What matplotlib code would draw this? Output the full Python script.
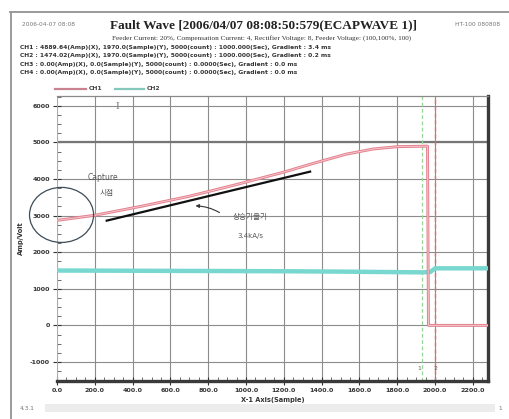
import matplotlib
matplotlib.use("Agg")
import matplotlib.pyplot as plt
from matplotlib.patches import Ellipse, Rectangle
from matplotlib.lines import Line2D
import numpy as np

plt.rcParams['font.family'] = ['DejaVu Sans', 'Noto Sans CJK KR']

# ---- waveform data (sample index vs. value) ----
ch1_x = [0, 200, 450, 700, 950, 1200, 1350, 1530, 1670, 1800, 1960, 1965, 2280]
ch1_y = [2870, 3010, 3260, 3530, 3850, 4190, 4420, 4680, 4820, 4885, 4900, 0, 0]

ch2_x = [0, 300, 600, 900, 1200, 1500, 1800, 1930, 1975, 2000, 2280]
ch2_y = [1500, 1495, 1490, 1485, 1480, 1470, 1455, 1450, 1460, 1560, 1560]

# rising-slope guide line
slope_x = [263, 1339]
slope_y = [2863, 4203]

# cursors and reference level
cursor1_x = 1930
cursor2_x = 2000
start_cursor_x = 0
ref_level = 5000

x_ticks = list(range(0, 2201, 200))
x_tick_labels = [f"{v:.1f}" for v in x_ticks]
y_ticks = list(range(-1000, 6001, 1000))
y_tick_labels = [str(v) for v in y_ticks]

title = "Fault Wave [2006/04/07 08:08:50:579(ECAPWAVE 1)]"
subtitle = ("Feeder Current: 20%, Compensation Current: 4, Rectifier Voltage: 8, "
            "Feeder Voltage: (100,100%, 100)")
info_lines = [
    "CH1 : 4889.64(Amp)(X), 1970.0(Sample)(Y), 5000(count) : 1000.000(Sec), Gradient : 3.4 ms",
    "CH2 : 1474.02(Amp)(X), 1970.0(Sample)(Y), 5000(count) : 1000.000(Sec), Gradient : 0.2 ms",
    "CH3 : 0.00(Amp)(X), 0.0(Sample)(Y), 5000(count) : 0.0000(Sec), Gradient : 0.0 ms",
    "CH4 : 0.00(Amp)(X), 0.0(Sample)(Y), 5000(count) : 0.0000(Sec), Gradient : 0.0 ms",
]
legend_names = ["CH1", "CH2"]

W, H = 509, 419
fig = plt.figure(figsize=(W / 100, H / 100), dpi=100)
fig.patch.set_facecolor("white")


def fx(px):
    return px / W


def fy(py):
    return 1 - py / H


ax = fig.add_axes([fx(57), fy(381), fx(488) - fx(57), fy(96) - fy(381)])
ax.set_xlim(0, 2280)
ax.set_ylim(-1520, 6270)

# grid
ax.set_xticks(x_ticks)
ax.set_xticklabels(x_tick_labels)
ax.set_yticks(y_ticks)
ax.set_yticklabels(y_tick_labels)
ax.set_xticks(np.arange(0, 2281, 50), minor=True)
ax.set_yticks(np.arange(-1500, 6251, 250), minor=True)
ax.grid(True, which="major", color="#8c8c8c", lw=0.8)
ax.set_axisbelow(True)

ax.tick_params(which="major", direction="inout", length=6, width=0.8,
               labelsize=4.6, colors="#333333", pad=2)
ax.tick_params(which="minor", direction="in", length=3, width=0.6, colors="#555555")
for lab in ax.get_xticklabels() + ax.get_yticklabels():
    lab.set_fontweight("bold")

for side in ("bottom", "right"):
    ax.spines[side].set_color("#3a3a3a")
    ax.spines[side].set_linewidth(2.4)
ax.spines["top"].set_color("#8a8a8a")
ax.spines["top"].set_linewidth(0.9)
ax.spines["left"].set_color("#b0b0b0")
ax.spines["left"].set_linewidth(0.6)

# reference level and cursors
ax.axhline(ref_level, color="#767676", lw=1.6, zorder=1.5)
ax.axvline(start_cursor_x, color="#e49ab6", lw=1.1, ls=(0, (2, 2)), zorder=2)
ax.axvline(cursor1_x, color="#95d595", lw=0.9, ls=(0, (3, 2)), zorder=2)
ax.axvline(cursor2_x, color="#e06878", lw=1.0, ls=(0, (3, 2)), zorder=2)
ax.text(cursor1_x - 15, -1170, "1", fontsize=4.5, color="#666666", ha="center", va="center")
ax.text(cursor2_x, -1170, "2", fontsize=4.5, color="#666666", ha="center", va="center")

# waveforms
ax.plot(ch2_x, ch2_y, color="#78d8d0", lw=3.2, solid_capstyle="butt", zorder=3)
ax.plot(ch1_x, ch1_y, color="#e3808e", lw=2.1, zorder=4)
ax.plot(ch1_x, ch1_y, color="#f6c6cc", lw=0.7, zorder=4.1)

# slope guide
ax.plot(slope_x, slope_y, color="#111111", lw=1.6, zorder=5)
ax.annotate("", xy=(718, 3267), xytext=(872, 3046),
            arrowprops=dict(arrowstyle="-|>", color="#333333", lw=0.8,
                            connectionstyle="arc3,rad=0.15", mutation_scale=5),
            zorder=6)
ax.text(1021, 2964, "상승기울기", fontsize=5.5, color="#555555", ha="center", va="center",
        family=["Noto Sans CJK KR", "DejaVu Sans"])
ax.text(1021, 2445, "3.4kA/s", fontsize=5.0, color="#555555", ha="center", va="center")

# capture marker
ax.add_patch(Ellipse((24, 3019), 339, 1504, fill=False, edgecolor="#3c4c58", lw=0.9,
                     clip_on=False, zorder=6))
ax.text(243, 4030, "Capture", fontsize=5.5, color="#555555", ha="center", va="center")
ax.text(260, 3607, "시점", fontsize=5.5, color="#555555", ha="center", va="center",
        family=["Noto Sans CJK KR", "DejaVu Sans"])
ax.text(317, 5970, "I", fontsize=8, color="#777777", ha="center", va="center",
        family="Liberation Serif")

ax.set_xlabel("X-1 Axis(Sample)", fontsize=4.8, fontweight="bold", color="#333333", labelpad=3)
ax.set_ylabel("Amp/Volt", fontsize=4.8, fontweight="bold", color="#333333", labelpad=4)

# header
fig.text(fx(263), fy(25), title, fontsize=9.5, fontweight="bold", family="Liberation Serif",
         ha="center", va="center", color="#222222")
fig.text(fx(262), fy(38), subtitle, fontsize=5.2, family="Liberation Serif",
         ha="center", va="center", color="#333333")
fig.text(fx(22), fy(25), "2006-04-07 08:08", fontsize=4.2, ha="left", va="center",
         color="#777777")
fig.text(fx(500), fy(25), "HT-100 080808", fontsize=4.2, ha="right", va="center",
         color="#777777")
for i, line in enumerate(info_lines):
    fig.text(fx(20), fy(47 + i * 8.6), line, fontsize=4.3, fontweight="bold",
             ha="left", va="center", color="#333333")

# legend row
fig.add_artist(Line2D([fx(55), fx(86)], [fy(89), fy(89)], color="#c98390", lw=1.6))
fig.text(fx(89), fy(89), legend_names[0], fontsize=4.4, fontweight="bold",
         ha="left", va="center", color="#444444")
fig.add_artist(Line2D([fx(115), fx(144)], [fy(89), fy(89)], color="#84c8bc", lw=1.6))
fig.text(fx(147), fy(89), legend_names[1], fontsize=4.4, fontweight="bold",
         ha="left", va="center", color="#444444")

# window frame and status bar
fig.add_artist(Line2D([fx(11), fx(11)], [fy(12), fy(419)], color="#9a9a9a", lw=1.4))
fig.add_artist(Line2D([fx(10), fx(509)], [fy(12), fy(12)], color="#9a9a9a", lw=1.4))
fig.add_artist(Rectangle((fx(45), fy(412)), fx(495) - fx(45), fy(404) - fy(412),
                         facecolor="#ececec", edgecolor="none", transform=fig.transFigure))
fig.text(fx(20), fy(408), "4.3.1", fontsize=4.2, ha="left", va="center", color="#777777")
fig.text(fx(498), fy(408), "1", fontsize=4.2, ha="left", va="center", color="#777777")

fig.savefig("out.png", dpi=100, facecolor="white")
